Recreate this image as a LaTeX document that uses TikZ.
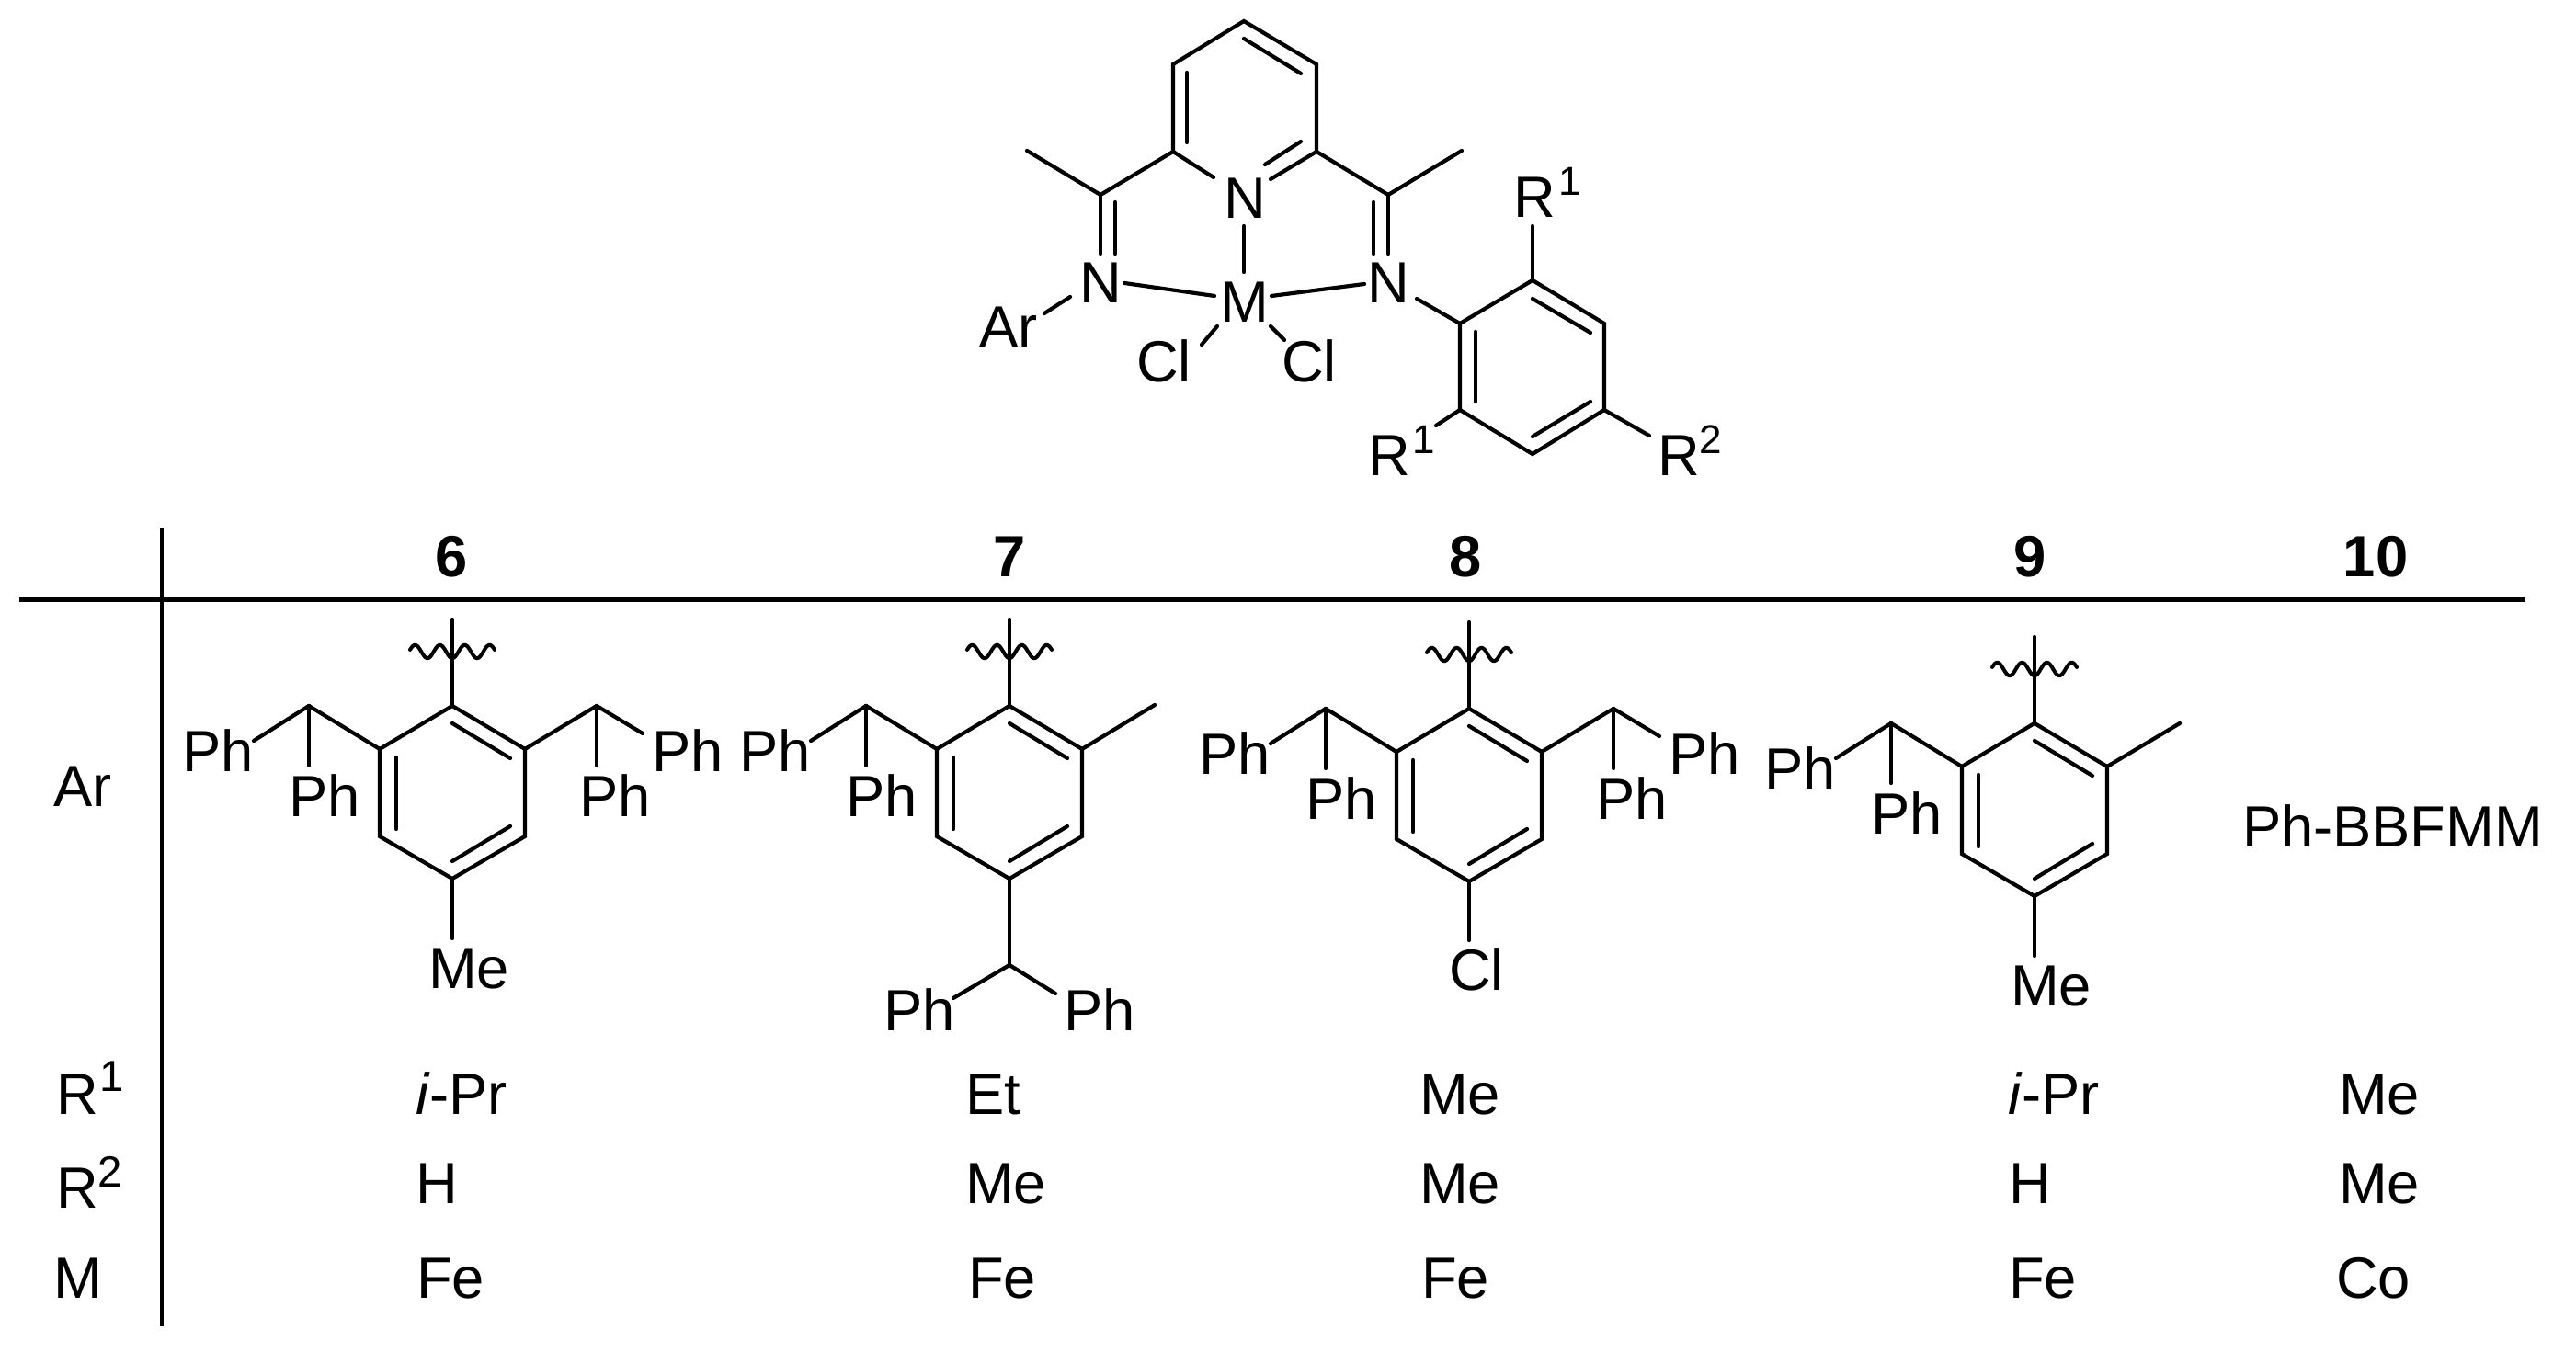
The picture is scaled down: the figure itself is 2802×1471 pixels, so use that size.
\documentclass[tikz,border=0pt]{standalone}
\usepackage{fontspec}
\setmainfont{Liberation Sans}
\newcommand{\fsz}{\fontsize{18}{20}\selectfont}
\newcommand{\supA}[2]{R\kern#1cm\raisebox{0.24cm}{\fontsize{12.5}{14}\selectfont #2}}
\newcommand{\supB}[3]{R\kern#1cm\raisebox{#3cm}{\fontsize{13.5}{15}\selectfont #2}}
% point and bond helpers
\newcommand{\pt}[2]{\coordinate (#1) at (#2);}
\newcommand{\bonds}[1]{\foreach \u/\v in {#1} {\draw[bond] (\u) -- (\v);}}
\newcommand{\txt}[3]{\node[chem] (#1) at (#2) {#3};}
% arene ring, in local coordinates: origin at the ring's top carbon
\newcommand{\arene}[1]{%
  \pt{#1a}{0,0}\pt{#1b}{79,47}\pt{#1c}{79,142}\pt{#1d}{0,188}\pt{#1e}{-79,142}\pt{#1f}{-79,47}
  \pt{#1g}{0,19}\pt{#1h}{63,57}\pt{#1i}{63,131}\pt{#1j}{0,169}\pt{#1k}{-61,56}\pt{#1m}{-61,134}
  \pt{#1t}{0,-94}
  \draw[bond,line join=miter] (#1a) -- (#1b) -- (#1c) -- (#1d) -- (#1e) -- (#1f) -- cycle;
  \bonds{#1g/#1h,#1i/#1j,#1k/#1m,#1t/#1a}
  \draw[wavy] plot[domain=-46:46,samples=93,smooth] ({\x},{-59+7.2*cos(13.333*\x)});
}
% diphenylmethyl group on the left of the ring
\newcommand{\leftdpm}[1]{%
  \pt{#1p}{-156,0}\pt{#1q}{-216,38}\pt{#1r}{-156,65}
  \txt{#1Pa}{-294,72}{Ph}\txt{#1Pb}{-178,121}{Ph}
  \bonds{#1f/#1p,#1p/#1q,#1p/#1r}
}
\newcommand{\rightdpm}[1]{%
  \pt{#1u}{157,0}\pt{#1v}{207,30}\pt{#1w}{157,65}
  \txt{#1Pc}{217,72}{Ph}\txt{#1Pd}{138,121}{Ph}
  \bonds{#1b/#1u,#1u/#1v,#1u/#1w}
}
\tikzset{
  x=0.01cm,y=-0.01cm,
  bond/.style={line width=0.042cm,line cap=round,line join=round},
  wavy/.style={line width=0.04cm,line cap=round,line join=round},
  rule/.style={line width=0.05cm},
  vrule/.style={line width=0.04cm},
  chem/.style={anchor=base west,inner sep=0pt,outer sep=0pt,font=\fsz},
  num/.style={anchor=base,inner sep=0pt,outer sep=0pt,font=\fsz\bfseries},
}
\begin{document}
\begin{tikzpicture}
\useasboundingbox (0,0) rectangle (2802,1471);
\fill[white] (0,0) rectangle (2802,1471);

% ---- metal complex ----
\pt{pa}{1353,23}\pt{pb}{1432,70}\pt{pc}{1432,165}\pt{pd}{1382,195}\pt{pe}{1320,193}\pt{pf}{1276,165}\pt{pg}{1276,70}
\pt{pi1}{1353,42}\pt{pi2}{1415,80}\pt{pi3}{1376,179}\pt{pi4}{1415,154}\pt{pi5}{1291,79}\pt{pi6}{1291,155}
\draw[bond,line join=miter] (pd) -- (pc) -- (pb) -- (pa) -- (pg) -- (pf) -- (pe);
\bonds{pi1/pi2,pi3/pi4,pi5/pi6}
\pt{lc}{1197,212}\pt{lm}{1117,164}\pt{ln}{1197,276}\pt{li1}{1213,220}\pt{li2}{1213,276}
\pt{rc}{1510,212}\pt{rm}{1590,164}\pt{rn}{1510,276}\pt{ri1}{1494,220}\pt{ri2}{1494,276}
\bonds{pf/lc,lc/lm,lc/ln,li1/li2,pc/rc,rc/rm,rc/rn,ri1/ri2}
\pt{a1}{1353,246}\pt{a2}{1353,296}\pt{a3}{1223,308}\pt{a4}{1321,322}\pt{a5}{1383,322}\pt{a6}{1484,309}
\pt{a7}{1324,355}\pt{a8}{1307,375}\pt{a9}{1382,355}\pt{a10}{1397,370}\pt{a11}{1136,341}\pt{a12}{1164,323}
\bonds{a1/a2,a3/a4,a5/a6,a7/a8,a9/a10,a11/a12}
\txt{Npy}{1331,237.5}{N}
\txt{Nl}{1174,330}{N}
\txt{Nr}{1487,330}{N}
\txt{Mt}{1327,351}{M}
\txt{Cla}{1236,416}{Cl}
\txt{Clb}{1394,416}{Cl}
\txt{Art}{1065,378}{Ar}
% N-aryl ring
\pt{q1}{1588,352}\pt{q2}{1667,305}\pt{q3}{1745,352}\pt{q4}{1745,446}\pt{q5}{1667,494}\pt{q6}{1588,446}
\pt{qi1}{1667,325}\pt{qi2}{1730,362}\pt{qi3}{1605,361}\pt{qi4}{1605,437}\pt{qi5}{1730,437}\pt{qi6}{1667,475}
\draw[bond,line join=miter] (q1) -- (q2) -- (q3) -- (q4) -- (q5) -- (q6) -- cycle;
\pt{q7}{1541,325}\pt{q8}{1667,246}\pt{q9}{1562,463}\pt{q10}{1794,474}
\bonds{qi1/qi2,qi3/qi4,qi5/qi6,q7/q1,q2/q8,q6/q9,q4/q10}
\txt{Rta}{1646,237}{\supA{0.04}{1}}
\txt{Rtb}{1488,518}{\supA{0.03}{1}}
\txt{Rtc}{1803,518}{\supA{0}{2}}

% ---- table rules ----
\pt{h1}{21,653}\pt{h2}{2746,653}\pt{v1}{176,575}\pt{v2}{176,1443}
\draw[rule] (h1) -- (h2);
\draw[vrule] (v1) -- (v2);

% ---- column heads ----
\node[num] (n6) at (491,628) {6};
\node[num] (n7) at (1098,628) {7};
\node[num] (n8) at (1594,628) {8};
\node[num] (n9) at (2208,628) {9};
\node[num] (n10) at (2584,628) {10};

% ---- row labels ----
\txt{lAr}{58,878}{Ar}
\txt{lRa}{61,1213}{\supB{0.02}{1}{0.25}}
\txt{lRb}{61,1315}{\supB{0}{2}{0.23}}
\txt{lM}{58,1413}{M}

% ---- compound 6 ----
\begin{scope}[shift={(492,768)}]
\arene{s}\leftdpm{s}\rightdpm{s}
\pt{sz}{0,253}\bonds{sd/sz}
\txt{sMe}{-26,308}{Me}
\end{scope}

% ---- compound 7 ----
\begin{scope}[shift={(1098,768)}]
\arene{t}\leftdpm{t}
\pt{tme}{158,-1}\pt{tch}{0,282}\pt{tx}{-61,318}\pt{ty}{50,313}
\bonds{tb/tme,td/tch,tch/tx,tch/ty}
\txt{tPe}{-137,354}{Ph}
\txt{tPf}{59,354}{Ph}
\end{scope}

% ---- compound 8 ----
\begin{scope}[shift={(1598,771)}]
\arene{e}\leftdpm{e}\rightdpm{e}
\pt{ez}{0,252}\bonds{ed/ez}
\txt{eCl}{-22,307}{Cl}
\end{scope}

% ---- compound 9 ----
\begin{scope}[shift={(2213,787)}]
\arene{n}\leftdpm{n}
\pt{nme}{158,0}\pt{nz}{0,253}\bonds{nb/nme,nd/nz}
\txt{nMe}{-26,308}{Me}
\end{scope}

% ---- compound 10 ----
\txt{bb}{2439,922}{Ph-BBFMM}

% ---- value rows ----
\txt{r11}{452,1213}{\textit{i}-Pr}
\txt{r12}{1050,1213}{Et}
\txt{r13}{1544,1213}{Me}
\txt{r14}{2184,1213}{\textit{i}-Pr}
\txt{r15}{2544,1213}{Me}
\txt{r21}{452,1310}{H}
\txt{r22}{1050,1310}{Me}
\txt{r23}{1544,1310}{Me}
\txt{r24}{2185,1310}{H}
\txt{r25}{2544,1310}{Me}
\txt{r31}{453,1413}{Fe}
\txt{r32}{1053,1413}{Fe}
\txt{r33}{1546,1413}{Fe}
\txt{r34}{2185,1413}{Fe}
\txt{r35}{2541,1413}{Co}
\end{tikzpicture}
\end{document}
